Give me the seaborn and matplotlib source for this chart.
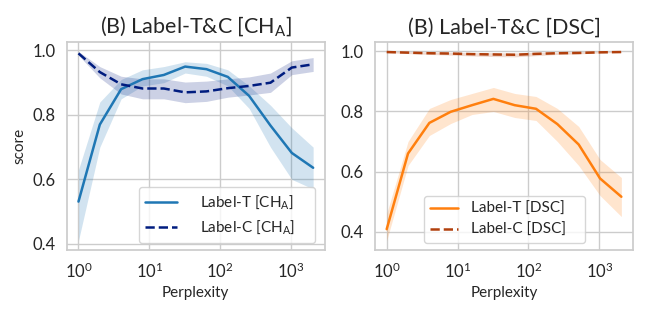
import numpy as np
import pandas as pd
import matplotlib
matplotlib.use("Agg")
import matplotlib.pyplot as plt
import seaborn as sns

perplexity = [1, 2, 4, 8, 16, 32, 64, 128, 256, 512, 1024, 2048]

# Left panel (CH_A)
cha_t_mean = [0.531, 0.770, 0.880, 0.911, 0.924, 0.950, 0.942, 0.918, 0.859, 0.767, 0.682, 0.636]
cha_t_low  = [0.41, 0.70, 0.85, 0.89, 0.90, 0.93, 0.92, 0.89, 0.82, 0.70, 0.60, 0.57]
cha_t_high = [0.63, 0.84, 0.91, 0.94, 0.95, 0.965, 0.96, 0.94, 0.89, 0.83, 0.76, 0.70]
cha_c_mean = [0.991, 0.933, 0.895, 0.882, 0.882, 0.870, 0.873, 0.883, 0.890, 0.900, 0.947, 0.957]
cha_c_low  = [0.985, 0.915, 0.865, 0.850, 0.850, 0.838, 0.842, 0.855, 0.862, 0.870, 0.925, 0.935]
cha_c_high = [0.997, 0.950, 0.920, 0.912, 0.912, 0.902, 0.905, 0.912, 0.918, 0.930, 0.968, 0.978]

# Right panel (DSC)
dsc_t_mean = [0.408, 0.660, 0.762, 0.799, 0.821, 0.842, 0.821, 0.809, 0.758, 0.690, 0.577, 0.516]
dsc_t_low  = [0.37, 0.62, 0.72, 0.76, 0.79, 0.80, 0.78, 0.77, 0.70, 0.62, 0.52, 0.45]
dsc_t_high = [0.46, 0.70, 0.81, 0.84, 0.86, 0.88, 0.86, 0.85, 0.81, 0.75, 0.64, 0.58]
dsc_c_mean = [0.998, 0.996, 0.994, 0.993, 0.991, 0.990, 0.989, 0.992, 0.994, 0.995, 0.997, 0.998]
dsc_c_low  = [0.996, 0.993, 0.990, 0.988, 0.985, 0.983, 0.982, 0.986, 0.990, 0.992, 0.995, 0.997]
dsc_c_high = [1.000, 0.999, 0.998, 0.997, 0.996, 0.996, 0.995, 0.997, 0.998, 0.999, 0.999, 1.000]

titles = [r"(B) Label-T&C [CH$_\mathregular{A}$]", "(B) Label-T&C [DSC]"]
labels_left = [r"Label-T [CH$_\mathregular{A}$]", r"Label-C [CH$_\mathregular{A}$]"]
labels_right = ["Label-T [DSC]", "Label-C [DSC]"]

sns.set_theme(style="whitegrid")
plt.rcParams['font.family'] = ['Lato', 'DejaVu Sans']
plt.rcParams['mathtext.fontset'] = 'custom'
plt.rcParams['mathtext.rm'] = 'Lato'

fig = plt.figure(figsize=(6.48, 3.11), dpi=100)
gs = fig.add_gridspec(1, 2, left=0.103, right=0.977, top=0.865, bottom=0.196, wspace=0.194)
axes = [fig.add_subplot(gs[0, 0]), fig.add_subplot(gs[0, 1])]

panels = [
    (axes[0], [(cha_t_mean, cha_t_low, cha_t_high, "#1f77b4", "-", labels_left[0]),
               (cha_c_mean, cha_c_low, cha_c_high, "#001c7f", "--", labels_left[1])]),
    (axes[1], [(dsc_t_mean, dsc_t_low, dsc_t_high, "#ff7f0e", "-", labels_right[0]),
               (dsc_c_mean, dsc_c_low, dsc_c_high, "#b1400d", "--", labels_right[1])]),
]

legend_boxes = [(0.279, 0.034, 0.682, 0.3), (0.190, 0.034, 0.624, 0.3)]
legend_hl = [2.1, 1.8]
legend_pad = [1.5, 0.9]

for i, (ax, series) in enumerate(panels):
    for mean, low, high, color, ls, lab in series:
        df = pd.DataFrame({"Perplexity": perplexity, "score": mean})
        sns.lineplot(data=df, x="Perplexity", y="score", ax=ax, color=color,
                     linestyle=ls, linewidth=1.8, label=lab)
        ax.fill_between(perplexity, low, high, color=color, alpha=0.2, linewidth=0)
    ax.set_xscale("log")
    ax.set_title(titles[i], fontsize=15.5)
    ax.set_xlabel("Perplexity", fontsize=11)
    ax.set_ylabel("score" if i == 0 else "", fontsize=11)
    ax.set_yticks([0.4, 0.6, 0.8, 1.0])
    ax.set_yticklabels(["0.4", "0.6", "0.8", "1.0"])
    ax.tick_params(axis="both", labelsize=12, pad=2)
    ax.tick_params(axis="x", which="minor", bottom=False)
    ax.legend(loc="lower left", bbox_to_anchor=legend_boxes[i], mode="expand",
              borderaxespad=0, fontsize=11, frameon=True,
              handlelength=legend_hl[i], handletextpad=legend_pad[i],
              labelspacing=0.45)

plt.savefig("out.png", dpi=100)
